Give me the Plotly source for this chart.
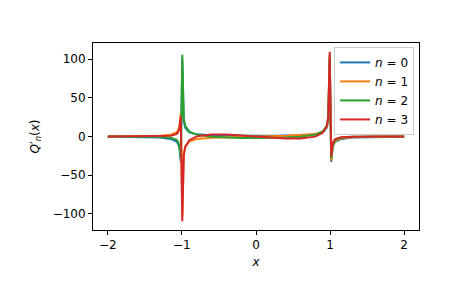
import plotly.graph_objects as go

# sample points (dense near the singularities at x = -1 and x = 1)
x_vals = [-2.0, -1.6, -1.3, -1.15, -1.0754, -1.0553, -1.0352, -1.0151,
          -0.995, -0.9749, -0.9548, -0.9, -0.8, -0.6, -0.4, -0.2, 0.0,
          0.2, 0.4, 0.6, 0.8, 0.9, 0.9548, 0.9749, 0.995,
          1.0151, 1.0352, 1.0553, 1.0754, 1.15, 1.3, 1.6, 2.0]

q0 = [-0.333, -0.641, -1.449, -3.101, -6.426, -8.798, -13.96, -32.86,
      99.75, 20.15, 11.31, 5.263, 2.778, 1.563, 1.190, 1.042, 1.0,
      1.042, 1.190, 1.563, 2.778, 5.263, 11.31, 20.15, 99.75,
      -32.86, -13.96, -8.798, -6.426, -3.101, -1.449, -0.641, -0.333]

q1 = [0.117, 0.293, 0.866, 2.235, 5.248, 7.477, 12.42, 30.91,
      -102.24, -21.83, -12.68, -6.209, -3.321, -1.631, -0.900, -0.411, 0.0,
      0.411, 0.900, 1.631, 3.321, 6.209, 12.68, 21.83, 102.24,
      -30.91, -12.42, -7.477, -5.248, -2.235, -0.866, -0.293, -0.117]

q2 = [-0.038, -0.122, -0.477, -1.508, -4.072, -6.075, -10.66, -28.41,
      105.68, 23.54, 13.71, 6.238, 2.414, -0.190, -1.301, -1.837, -2.0,
      -1.837, -1.301, -0.190, 2.414, 6.238, 13.71, 23.54, 105.68,
      -28.41, -10.66, -6.075, -4.072, -1.508, -0.477, -0.122, -0.038]

q3 = [0.012, 0.048, 0.252, 0.982, 3.072, 4.812, 8.952, 25.73,
      -109.51, -24.62, -13.69, -4.722, 0.152, 2.731, 2.651, 1.535, 0.0,
      -1.535, -2.651, -2.731, -0.152, 4.722, 13.69, 24.62, 109.51,
      -25.73, -8.952, -4.812, -3.072, -0.982, -0.252, -0.048, -0.012]

series = [("<i>n</i> = 0", q0, "#1f77b4"),
          ("<i>n</i> = 1", q1, "#ff7f0e"),
          ("<i>n</i> = 2", q2, "#2ca02c"),
          ("<i>n</i> = 3", q3, "#d62728")]

x_ticks = [-2, -1, 0, 1, 2]
y_ticks = [-100, -50, 0, 50, 100]
y_tick_text = ["\u2212100", "\u221250", "0", "50", "100"]
x_tick_text = ["\u22122", "\u22121", "0", "1", "2"]

fig = go.Figure()
for name, ys, col in series:
    fig.add_trace(go.Scatter(x=x_vals, y=ys, mode="lines", name=name,
                             line=dict(color=col, width=2)))

font = dict(family="DejaVu Sans", size=12, color="black")
fig.update_layout(
    width=465, height=288,
    margin=dict(l=93, r=46, t=43, b=58),
    paper_bgcolor="white", plot_bgcolor="white",
    font=font,
    showlegend=True,
    legend=dict(x=0.985, y=0.979, xanchor="right", yanchor="top",
                bgcolor="rgba(255,255,255,0.8)", bordercolor="#cccccc",
                borderwidth=1, font=dict(family="DejaVu Sans", size=12, color="black"),
                tracegroupgap=0, itemwidth=30),
    xaxis=dict(range=[-2.2, 2.2], tickvals=x_ticks, ticktext=x_tick_text,
               showgrid=False, zeroline=False, showline=True, mirror=True,
               linecolor="black", linewidth=1, ticks="outside", ticklen=4,
               tickcolor="black", tickfont=font,
               title=dict(text="<i>x</i>", font=font, standoff=6)),
    yaxis=dict(range=[-120.8, 120.8], tickvals=y_ticks, ticktext=y_tick_text,
               showgrid=False, zeroline=False, showline=True, mirror=True,
               linecolor="black", linewidth=1, ticks="outside", ticklen=4,
               tickcolor="black", tickfont=font,
               title=dict(text="<i>Q</i>\u2032<sub><i>n</i></sub>(<i>x</i>)",
                          font=font, standoff=10)),
)

fig.write_html("out.html")
